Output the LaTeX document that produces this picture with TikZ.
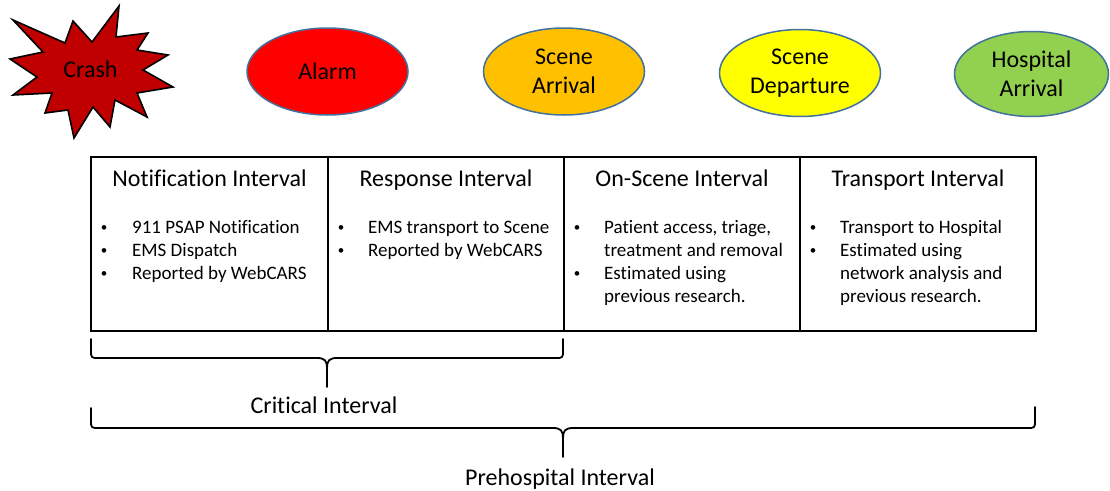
\documentclass[tikz,border=0pt]{standalone}
\usepackage{fontspec}
\setmainfont[Ligatures=NoCommon]{Carlito}
\usetikzlibrary{shapes.geometric}
\definecolor{crashred}{HTML}{C00000}
\definecolor{alarmred}{HTML}{FF0000}
\definecolor{arrgold}{HTML}{FFC000}
\definecolor{depyellow}{HTML}{FFFF00}
\definecolor{hospgreen}{HTML}{92D050}
\definecolor{evborder}{HTML}{41719C}
\begin{document}
\begin{tikzpicture}[x=1pt,y=-1pt,
  event/.style={ellipse, draw=evborder, line width=1.5pt, inner sep=0pt,
    minimum width=161pt, minimum height=87pt, align=center,
    font=\fontsize{24}{29}\selectfont},
  col/.style={rectangle, draw=black, line width=1.8pt, minimum width=236.25pt,
    minimum height=174pt, inner sep=0pt},
  coltitle/.style={anchor=base, inner sep=0pt, font=\fontsize{24}{29}\selectfont},
  btext/.style={anchor=base west, inner sep=0pt, font=\fontsize{19}{23}\selectfont},
  bul/.style={anchor=base, inner sep=0pt, font=\fontsize{13}{23}\selectfont},
  brace/.style={draw=black, line width=1.8pt, line cap=round, line join=round},
  bracelabel/.style={anchor=base, inner sep=0pt, font=\fontsize{24}{29}\selectfont}
]
\useasboundingbox (0,0) rectangle (1110,490);

% Crash starburst
\filldraw[fill=crashred, draw=black, line width=1.6pt, line join=miter]
  (13,20) -- (65,43) -- (73,21) -- (92,42) -- (119,6) -- (116,37) -- (148,33)
  -- (137,50) -- (168,55) -- (143,70) -- (173,87) -- (137,93) -- (147,117)
  -- (115,100) -- (110,127) -- (93,107) -- (74,138) -- (68,110) -- (45,113)
  -- (52,93) -- (13,95) -- (37,77) -- (10,59) -- (43,52) -- cycle;
\node[anchor=base, inner sep=0pt, font=\fontsize{24}{29}\selectfont] (crash) at (90.5,77) {Crash};

% Events
\node[event, fill=alarmred] (alarm) at (327.5,71.5) {Alarm};
\node[event, fill=arrgold] (arrival) at (564,71.5) {Scene\\Arrival};
\node[event, fill=depyellow] (departure) at (800,73) {Scene\\Departure};
\node[event, fill=hospgreen, minimum width=154pt, minimum height=85pt] (hospital) at (1031.5,74) {Hospital\\Arrival};

% Interval columns
\node[col] (c1) at (209.5,244) {};
\node[col] (c2) at (446,244) {};
\node[col] (c3) at (682,244) {};
\node[col] (c4) at (918,244) {};

\node[coltitle] (t1) at (209.5,186) {Notification Interval};
\node[coltitle] (t2) at (446,186) {Response Interval};
\node[coltitle] (t3) at (682,186) {On-Scene Interval};
\node[coltitle] (t4) at (918,186) {Transport Interval};

% Column 1
\node[bul] (b11) at (104,231) {•};
\node[btext] (l11) at (132,233) {911 PSAP Notification};
\node[bul] (b12) at (104,254) {•};
\node[btext] (l12) at (132,256) {EMS Dispatch};
\node[bul] (b13) at (104,277) {•};
\node[btext] (l13) at (132,279) {Reported by WebCARS};
% Column 2
\node[bul] (b21) at (341,231) {•};
\node[btext] (l21) at (368,233) {EMS transport to Scene};
\node[bul] (b22) at (341,254) {•};
\node[btext] (l22) at (368,256) {Reported by WebCARS};
% Column 3
\node[bul] (b31) at (577,231) {•};
\node[btext] (l31) at (604,233) {Patient access, triage,};
\node[btext] (l32) at (604,256) {treatment and removal};
\node[bul] (b33) at (577,277) {•};
\node[btext] (l33) at (604,279) {Estimated using};
\node[btext] (l34) at (604,302) {previous research.};
% Column 4
\node[bul] (b41) at (813,231) {•};
\node[btext] (l41) at (840,233) {Transport to Hospital};
\node[bul] (b42) at (813,254) {•};
\node[btext] (l42) at (840,256) {Estimated using};
\node[btext] (l43) at (840,279) {network analysis and};
\node[btext] (l44) at (840,302) {previous research.};

% Critical brace
\draw[brace] (91,339) -- (91,350) .. controls (91,358) .. (99,358) -- (317,358)
  .. controls (325,358) and (327,361) .. (327,368) -- (327,387)
  (327,368) .. controls (327,361) and (329,358) .. (337,358) -- (555,358)
  .. controls (563,358) .. (563,350) -- (563,339);
\node[bracelabel] (critical) at (324,413) {Critical Interval};

% Prehospital brace
\draw[brace] (91,408) -- (91,420) .. controls (91,428) .. (99,428) -- (553,428)
  .. controls (561,428) and (563,431) .. (563,438) -- (563,457)
  (563,438) .. controls (563,431) and (565,428) .. (573,428) -- (1027,428)
  .. controls (1035,428) .. (1035,420) -- (1035,407);
\node[bracelabel] (prehospital) at (560,485) {Prehospital Interval};
\end{tikzpicture}
\end{document}
